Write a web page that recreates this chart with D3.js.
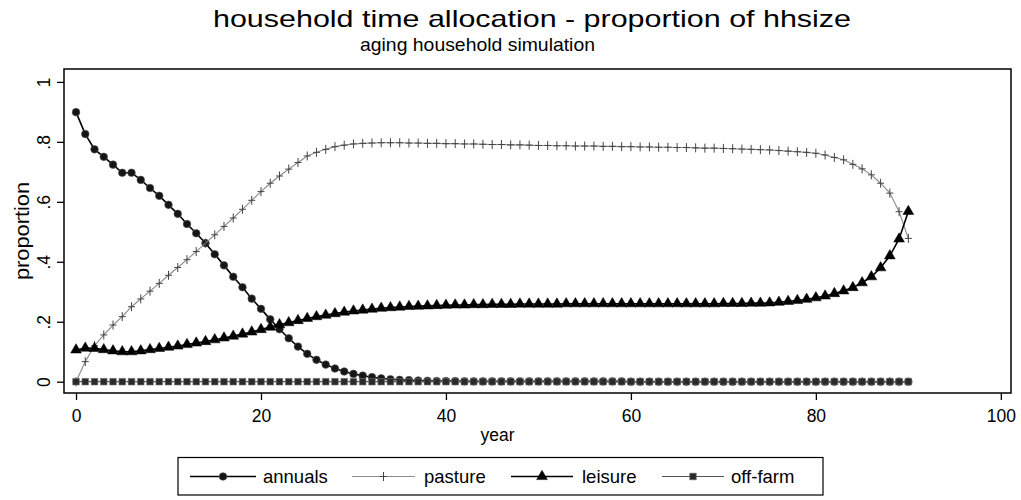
<!DOCTYPE html>
<html>
<head>
<meta charset="utf-8">
<script src="https://cdn.jsdelivr.net/npm/d3@7"></script>
<style>
  html, body { margin: 0; padding: 0; background: #fff; }
  svg text { font-family: "Liberation Sans", Arial, Helvetica, sans-serif; fill: #000; }
</style>
</head>
<body>
<svg id="chart" width="1021" height="500"></svg>
<script>
// ---------------- data ----------------
const years = [0,1,2,3,4,5,6,7,8,9,10,11,12,13,14,15,16,17,18,19,20,21,22,23,24,25,26,27,28,29,30,
  31,32,33,34,35,36,37,38,39,40,41,42,43,44,45,46,47,48,49,50,51,52,53,54,55,56,57,58,59,60,
  61,62,63,64,65,66,67,68,69,70,71,72,73,74,75,76,77,78,79,80,81,82,83,84,85,86,87,88,89,90];

const annuals = [0.899,0.826,0.775,0.750,0.724,0.697,0.697,0.673,0.646,0.620,0.590,0.560,0.526,0.495,0.462,
  0.425,0.388,0.350,0.315,0.277,0.243,0.208,0.175,0.145,0.117,0.093,0.073,0.057,0.044,0.034,0.026,
  0.020,0.015,0.011,0.008,0.006,0.005,0.004,0.003,0.002,0.002,0.002,0.001,0.001,0.001,0.001,0.001,
  0.001,0.001,0.001,0.001,0.001,0.001,0.001,0.001,0.001,0.001,0.001,0.001,0.001,0.000,0.000,0.000,
  0.000,0.000,0.000,0.000,0.000,0.000,0.000,0.000,0.000,0.000,0.000,0.000,0.000,0.000,0.000,0.000,
  0.000,0.000,0.000,0.000,0.000,0.000,0.000,0.000,0.000,0.000,0.000,0.000];

const pasture = [0.000,0.067,0.120,0.156,0.189,0.217,0.250,0.276,0.302,0.328,0.355,0.381,0.407,0.434,0.462,
  0.490,0.518,0.546,0.575,0.605,0.634,0.662,0.686,0.709,0.731,0.753,0.765,0.775,0.784,0.789,0.793,
  0.795,0.796,0.797,0.797,0.797,0.796,0.796,0.795,0.795,0.794,0.794,0.793,0.793,0.792,0.791,0.791,
  0.790,0.790,0.789,0.788,0.788,0.787,0.787,0.786,0.786,0.786,0.785,0.785,0.784,0.784,0.783,0.783,
  0.782,0.782,0.781,0.781,0.780,0.779,0.779,0.778,0.777,0.776,0.775,0.774,0.773,0.771,0.769,0.767,
  0.765,0.762,0.756,0.748,0.740,0.725,0.710,0.690,0.662,0.629,0.567,0.478];

const leisure = [0.106,0.112,0.111,0.107,0.103,0.100,0.100,0.103,0.107,0.111,0.115,0.119,0.124,0.129,0.134,
  0.140,0.146,0.152,0.159,0.166,0.174,0.182,0.190,0.197,0.204,0.211,0.217,0.222,0.227,0.232,0.236,
  0.239,0.242,0.245,0.247,0.249,0.251,0.252,0.253,0.254,0.255,0.256,0.256,0.257,0.257,0.258,0.258,
  0.258,0.259,0.259,0.259,0.259,0.259,0.260,0.260,0.260,0.260,0.260,0.260,0.260,0.260,0.260,0.260,
  0.260,0.260,0.260,0.260,0.260,0.260,0.260,0.261,0.261,0.261,0.262,0.262,0.263,0.265,0.268,0.271,
  0.275,0.280,0.286,0.294,0.303,0.314,0.330,0.350,0.380,0.420,0.476,0.568];

const offfarm = [0,0,0,0,0,0,0,0,0,0,0,0,0,0,0,0,0,0,0,0,0,0,0,0,0,0,0,0,0,0,0,
  0,0,0,0,0,0,0,0,0,0,0,0,0,0,0,0,0,0,0,0,0,0,0,0,0,0,0,0,0,0,
  0,0,0,0,0,0,0,0,0,0,0,0,0,0,0,0,0,0,0,0,0,0,0,0,0,0,0,0,0,0];

const seriesNames = ["annuals", "pasture", "leisure", "off-farm"];
const xTicks = [0, 20, 40, 60, 80, 100];
const xTickLabels = ["0", "20", "40", "60", "80", "100"];
const yTicks = [0, 0.2, 0.4, 0.6, 0.8, 1];
const yTickLabels = ["0", ".2", ".4", ".6", ".8", "1"];
const titleText = "household time allocation - proportion of hhsize";
const subtitleText = "aging household simulation";
const xTitle = "year";
const yTitle = "proportion";

// ---------------- layout ----------------
const svg = d3.select("#chart");
const L = 64, R = 1011, T = 69, B = 393;

const x = d3.scaleLinear().domain([-1.3, 101.1]).range([L, R]);
const y = d3.scaleLinear().domain([-0.0377, 1.043]).range([B, T]);

svg.append("rect").attr("width", 1021).attr("height", 500).attr("fill", "#fff");

// titles
svg.append("text").attr("x", 213).attr("y", 27)
  .attr("font-size", 24).attr("textLength", 638).attr("lengthAdjust", "spacingAndGlyphs")
  .text(titleText);
svg.append("text").attr("x", 360).attr("y", 51)
  .attr("font-size", 19).attr("textLength", 235).attr("lengthAdjust", "spacingAndGlyphs")
  .text(subtitleText);

// axes
const xAxis = svg.append("g").attr("transform", `translate(0,${B})`)
  .call(d3.axisBottom(x).tickValues(xTicks).tickSize(7).tickPadding(10)
    .tickFormat((d, i) => xTickLabels[i]));
xAxis.select(".domain").remove();
xAxis.selectAll("line").attr("stroke", "#000").attr("stroke-width", 1.3);
xAxis.selectAll("text").attr("font-size", 17.5).attr("font-family", '"Liberation Sans", Arial, sans-serif').attr("fill", "#000");

const yAxis = svg.append("g").attr("transform", `translate(${L},0)`)
  .call(d3.axisLeft(y).tickValues(yTicks).tickSize(7)
    .tickFormat((d, i) => yTickLabels[i]));
yAxis.select(".domain").remove();
yAxis.selectAll("line").attr("stroke", "#000").attr("stroke-width", 1.3);
yAxis.selectAll("text")
  .attr("x", 0).attr("y", 0).attr("dy", 0)
  .attr("text-anchor", "middle")
  .attr("transform", "translate(-14,0) rotate(-90)")
  .attr("font-size", 17.5).attr("font-family", '"Liberation Sans", Arial, sans-serif').attr("fill", "#000");

// axis titles
svg.append("text").attr("x", 497.5).attr("y", 441).attr("text-anchor", "middle")
  .attr("font-size", 17.5).text(xTitle);
svg.append("text").attr("transform", `translate(29,${(T + B) / 2}) rotate(-90)`)
  .attr("text-anchor", "middle").attr("font-size", 20)
  .attr("textLength", 98).attr("lengthAdjust", "spacingAndGlyphs")
  .text(yTitle);

// ---------------- series ----------------
const plot = svg.append("g");
const lineGen = d3.line().x(d => x(d[0])).y(d => y(d[1]));
const pts = arr => years.map((yr, i) => [yr, arr[i]]);

const plusPath = "M-3.5,0H3.5M0,-4.5V4.5";
const styles = {
  "annuals":  { data: annuals, line: "#000", lw: 1.6, sym: d3.symbol(d3.symbolCircle, 46)(), fill: "#151515", stroke: "#555", sw: 0.6 },
  "pasture":  { data: pasture, line: "#8a8a8a", lw: 1.1, sym: plusPath, fill: "none", stroke: "#444", sw: 1 },
  "leisure":  { data: leisure, line: "#000", lw: 1.6, sym: d3.symbol(d3.symbolTriangle, 50)(), fill: "#000", stroke: "#000", sw: 0.5 },
  "off-farm": { data: offfarm, line: "#555", lw: 1.2, sym: d3.symbol(d3.symbolSquare, 44)(), fill: "#2a2a2a", stroke: "#777", sw: 0.6 }
};

seriesNames.forEach(name => {
  const s = styles[name];
  const p = pts(s.data);
  plot.append("path").attr("d", lineGen(p)).attr("fill", "none")
    .attr("stroke", s.line).attr("stroke-width", s.lw);
  plot.selectAll(null).data(p).enter().append("path")
    .attr("transform", d => `translate(${x(d[0])},${y(d[1])})`)
    .attr("d", s.sym).attr("fill", s.fill).attr("stroke", s.stroke).attr("stroke-width", s.sw);
});

// frame
svg.append("rect").attr("x", L).attr("y", T).attr("width", R - L).attr("height", B - T)
  .attr("fill", "none").attr("stroke", "#000").attr("stroke-width", 1.5);

// ---------------- legend ----------------
const lg = svg.append("g");
lg.append("rect").attr("x", 178).attr("y", 457.5).attr("width", 645).attr("height", 37.5)
  .attr("fill", "#fff").attr("stroke", "#000").attr("stroke-width", 1.2);
const legendItems = [
  { name: "annuals",  x0: 190, x1: 256, tx: 263 },
  { name: "pasture",  x0: 352, x1: 415, tx: 424 },
  { name: "leisure",  x0: 511, x1: 573, tx: 582 },
  { name: "off-farm", x0: 662, x1: 724, tx: 731 }
];
legendItems.forEach(it => {
  const s = styles[it.name];
  const cy = 476.5;
  lg.append("line").attr("x1", it.x0).attr("x2", it.x1).attr("y1", cy).attr("y2", cy)
    .attr("stroke", s.line).attr("stroke-width", s.lw);
  lg.append("path").attr("transform", `translate(${(it.x0 + it.x1) / 2},${cy})`)
    .attr("d", s.sym).attr("fill", s.fill).attr("stroke", s.stroke).attr("stroke-width", s.sw);
  lg.append("text").attr("x", it.tx).attr("y", 483).attr("font-size", 18.5).text(it.name);
});
</script>
</body>
</html>
